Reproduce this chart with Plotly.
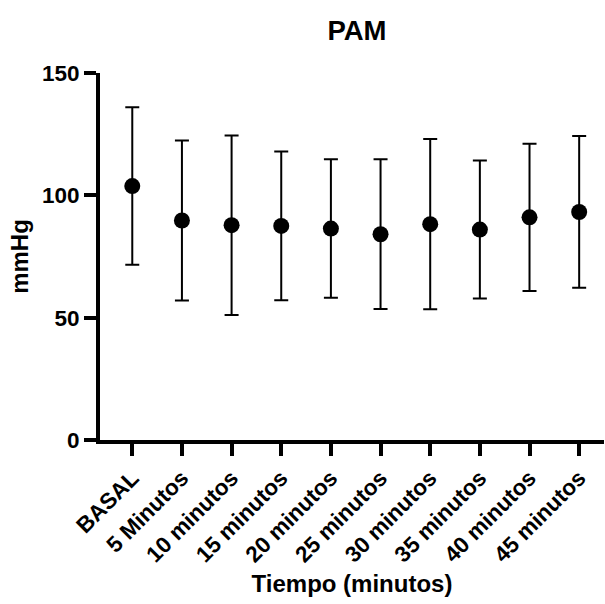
import plotly.graph_objects as go

categories = ["BASAL", "5 Minutos", "10 minutos", "15 minutos", "20 minutos",
              "25 minutos", "30 minutos", "35 minutos", "40 minutos", "45 minutos"]
mean_values = [103.8, 89.7, 87.8, 87.5, 86.4, 84.1, 88.2, 86.0, 91.0, 93.2]
sd_values = [32.2, 32.7, 36.7, 30.4, 28.3, 30.6, 34.8, 28.2, 30.1, 31.0]
y_ticks = [0, 50, 100, 150]

FONT = "Liberation Sans, Arial, sans-serif"

fig = go.Figure()
fig.add_trace(go.Scatter(
    x=list(range(len(categories))),
    y=mean_values,
    mode="markers",
    marker=dict(color="black", size=16, symbol="circle"),
    error_y=dict(type="data", array=sd_values, visible=True,
                 color="black", thickness=2, width=7),
    showlegend=False,
))

fig.update_layout(
    width=605, height=604,
    margin=dict(l=100, r=1, t=73, b=164),
    paper_bgcolor="white", plot_bgcolor="white",
    font=dict(family=FONT, color="black"),
    title=dict(text="<b>PAM</b>", x=357/605, xanchor="center",
               y=1 - 30/604, yanchor="middle", yref="container",
               font=dict(size=27.5, family=FONT, color="black")),
)
fig.update_xaxes(
    range=[-0.65, 9.5],
    tickmode="array", tickvals=list(range(len(categories))),
    ticktext=["<b>%s</b>" % c for c in categories],
    tickangle=-45,
    tickfont=dict(size=22.5, family=FONT, color="black"),
    ticks="outside", ticklen=12, tickwidth=4, tickcolor="black",
    showline=True, linewidth=4, linecolor="black",
    showgrid=False, zeroline=False,
    title=dict(text="<b>Tiempo (minutos)</b>", standoff=10,
               font=dict(size=24, family=FONT, color="black")),
)
fig.update_yaxes(
    range=[0, 150],
    tickmode="array", tickvals=y_ticks,
    ticktext=["<b>%d</b>" % t for t in y_ticks],
    tickfont=dict(size=22.5, family=FONT, color="black"),
    ticks="outside", ticklen=12, tickwidth=4, tickcolor="black",
    showline=True, linewidth=4, linecolor="black",
    showgrid=False, zeroline=False,
    title=dict(text="<b>mmHg</b>", standoff=8,
               font=dict(size=24, family=FONT, color="black")),
)

fig.write_html("out.html")
